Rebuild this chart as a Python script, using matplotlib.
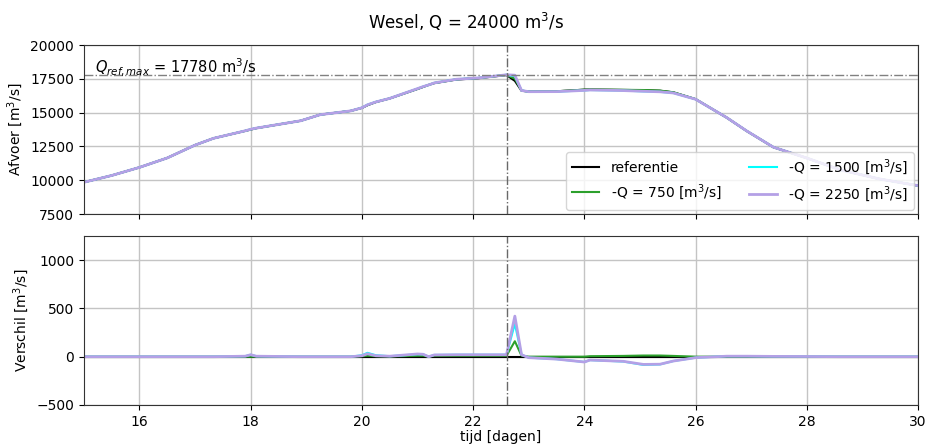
import numpy as np
import matplotlib
matplotlib.use("Agg")
import matplotlib.pyplot as plt

# tijd [dagen]
tijd = [15, 15.5, 16, 16.5, 17, 17.33, 17.9, 18, 18.1, 18.9, 19.25, 19.8, 20.0, 20.1,
        20.25, 20.5, 21.0, 21.1, 21.2, 21.3, 21.7, 22.1, 22.6, 22.75, 22.87, 23.0,
        23.5, 24.0, 24.1, 24.7, 25.06, 25.36, 25.6, 26.0, 26.56, 26.92, 27.4, 28.0,
        28.6, 29.3, 30.0]

# afvoer referentie [m3/s]
q_ref = [9850, 10350, 10950, 11650, 12600, 13100, 13650, 13750, 13850, 14400, 14850,
         15130, 15350, 15550, 15780, 16050, 16750, 16900, 17050, 17180, 17450, 17550,
         17780, 17350, 16620, 16560, 16580, 16700, 16710, 16680, 16660, 16620, 16500,
         16000, 14630, 13640, 12440, 11640, 10770, 10100, 9600]

# verschil t.o.v. referentie [m3/s]
d_750 = [0, 0, 0, 0, 0, 0, 0, 0, 0, 0, 0, 0, 5, 10, 5, 3, 10, 10, 0, 10, 10, 10, 10,
         160, 10, 0, 0, 0, 5, 8, 12, 12, 8, 0, 0, 0, 0, 0, 0, 0, 0]
d_1500 = [0, 0, 0, 0, 0, 0, 5, 20, 5, 0, 0, 0, 15, 40, 15, 5, 25, 25, 0, 18, 20, 20, 20,
          340, 20, -10, -25, -55, -35, -50, -85, -80, -45, -10, 5, 5, 3, 2, 0, 0, 0]
d_2250 = [0, 0, 0, 0, 0, 0, 5, 20, 5, 0, 0, 0, 10, 30, 10, 5, 28, 25, 0, 18, 20, 20, 20,
          420, 20, -10, -25, -55, -35, -48, -80, -78, -45, -10, 5, 5, 3, 2, 0, 0, 0]

q_max = 17780
t_max = 22.6

t = np.array(tijd)
ref = np.array(q_ref)
scen = [("-Q = 750 [m$^3$/s]", np.array(d_750), "#2ca02c", 1.5),
        ("-Q = 1500 [m$^3$/s]", np.array(d_1500), "cyan", 1.5),
        ("-Q = 2250 [m$^3$/s]", np.array(d_2250), "#b4a0e6", 2.0)]

fig, (ax1, ax2) = plt.subplots(2, 1, figsize=(9.32, 4.46), dpi=100, sharex=True)
fig.subplots_adjust(left=0.09, right=0.985, top=0.899, bottom=0.092, hspace=0.13)

ax1.plot(t, ref, color="black", lw=1.5, label="referentie")
ax2.plot(t, np.zeros_like(ref), color="black", lw=1.5)
for lab, d, c, lw in scen:
    ax1.plot(t, ref + d, color=c, lw=lw, label=lab)
    ax2.plot(t, d, color=c, lw=lw)

ax1.axhline(q_max, color="gray", ls="-.", lw=1)
ax1.text(15.2, q_max + 180, "$Q_{ref,max}$ = %d m$^3$/s" % q_max, fontsize=10.5)
for ax in (ax1, ax2):
    ax.axvline(t_max, color="dimgray", ls="-.", lw=1)
    ax.grid(True, color="#c4c4c4", lw=1)
    ax.set_xlim(15, 30)
    for s in ax.spines.values():
        s.set_color("#333333")

ax1.set_ylim(7500, 20000)
ax1.set_yticks(np.arange(7500, 20001, 2500))
ax1.set_ylabel("Afvoer [m$^3$/s]")
ax1.legend(loc="lower right", ncol=2, fontsize=10, borderaxespad=0.3)

ax2.set_ylim(-500, 1250)
ax2.set_yticks([-500, 0, 500, 1000])
ax2.set_ylabel("Verschil [m$^3$/s]")
ax2.set_xlabel("tijd [dagen]", labelpad=1)

fig.suptitle("Wesel, Q = 24000 m$^3$/s", fontsize=12, y=0.975)
fig.savefig("out.png", dpi=100)
